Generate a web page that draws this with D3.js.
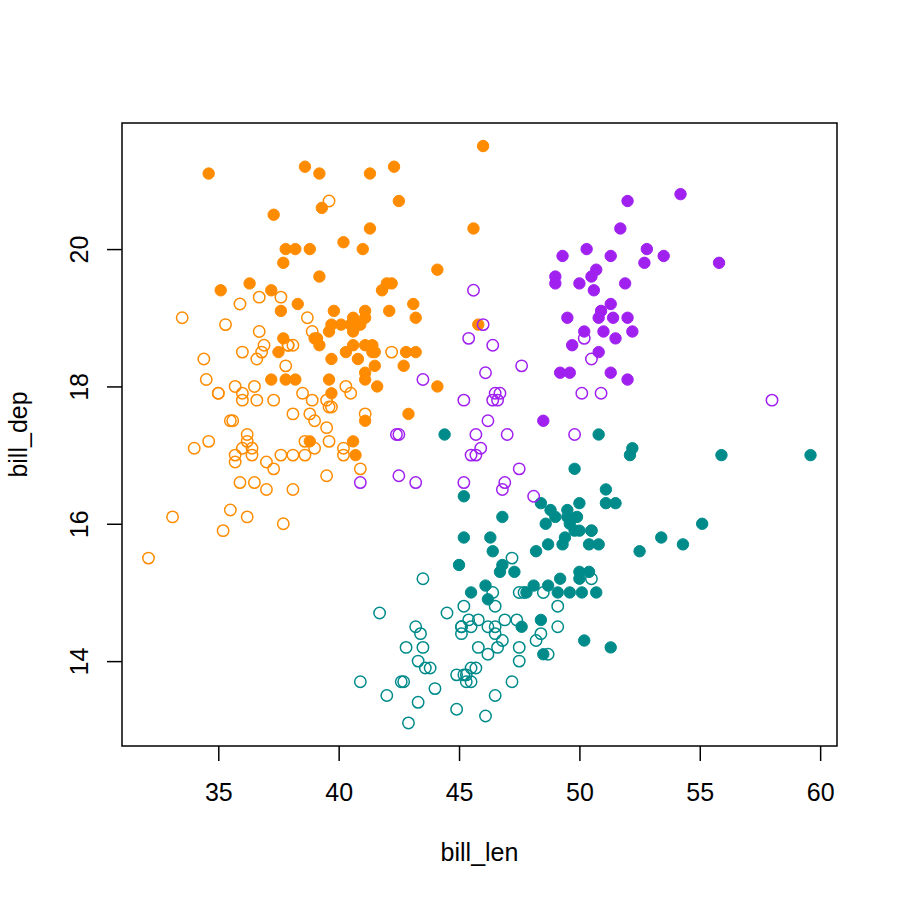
<!DOCTYPE html>
<html>
<head>
<meta charset="utf-8">
<script src="https://cdn.jsdelivr.net/npm/d3@7"></script>
<style>
  html, body { margin: 0; padding: 0; background: #fff; }
  text { font-family: "Liberation Sans", Arial, Helvetica, sans-serif; }
</style>
</head>
<body>
<div id="container"></div>
<script>
/* DATA */
// Adelie
const adelieLen = [39.1,39.5,40.3,36.7,39.3,38.9,39.2,41.1,38.6,34.6,36.6,38.7,42.5,34.4,46.0,37.8,37.7,35.9,38.2,38.8,
  35.3,40.6,40.5,37.9,40.5,39.5,37.2,39.5,40.9,36.4,39.2,38.8,42.2,37.6,39.8,36.5,40.8,36.0,44.1,37.0,
  39.6,41.1,36.0,42.3,39.6,40.1,35.0,42.0,34.5,41.4,39.0,40.6,36.5,37.6,35.7,41.3,37.6,41.1,36.4,41.6,
  35.5,41.1,35.9,41.8,33.5,39.7,39.6,45.8,35.5,42.8,40.9,37.2,36.2,42.1,34.6,42.9,36.7,35.1,37.3,41.3,
  36.3,36.9,38.3,38.9,35.7,41.1,34.0,39.6,36.2,40.8,38.1,40.3,33.1,43.2,35.0,41.0,37.7,37.8,37.9,39.7,
  38.6,38.2,38.1,43.2,38.1,45.6,39.7,42.2,39.6,42.7,38.6,37.3,35.7,41.1,36.2,37.7,40.2,41.4,35.2,40.6,
  38.8,41.5,39.0,44.1,38.5,43.1,36.8,37.5,38.1,41.1,35.6,40.2,37.0,39.7,40.2,40.6,32.1,40.7,37.3,39.0,
  39.2,36.6,36.0,37.8,36.0,41.5];
const adelieDep = [18.7,17.4,18.0,19.3,20.6,17.8,19.6,17.6,21.2,21.1,17.8,19.0,20.7,18.4,21.5,18.3,18.7,19.2,18.1,17.2,
  18.9,18.6,17.9,18.6,18.9,16.7,18.1,17.8,18.9,17.0,21.1,20.0,18.5,19.3,19.1,18.0,18.4,18.5,19.7,16.9,
  18.8,19.0,17.9,21.2,17.7,18.9,17.9,19.5,18.1,18.6,17.5,18.8,16.6,19.1,16.9,21.1,17.0,18.2,17.1,18.0,
  16.2,19.1,16.6,19.4,19.0,18.4,17.2,18.9,17.5,18.5,16.8,19.4,16.1,19.1,17.2,17.6,18.8,19.4,17.8,20.3,
  19.5,18.6,19.2,18.8,18.0,18.1,17.1,18.1,17.3,18.9,18.6,18.5,16.1,18.5,17.9,20.0,16.0,20.0,18.6,18.9,
  17.2,20.0,17.0,19.0,16.5,20.3,17.7,19.5,20.7,18.3,17.0,20.5,17.0,18.6,17.2,19.8,17.0,18.5,15.9,19.0,
  17.6,18.3,17.1,18.0,17.9,19.2,18.5,18.5,17.6,17.5,17.5,20.1,16.5,17.9,17.1,17.2,15.5,17.0,16.8,18.7,
  18.6,18.4,17.8,18.1,17.1,18.5];
const adelieSex = [
  "M","F","F","F","M","F","M","F","M","M",
  "F","F","M","F","M","F","M","F","M","M",
  "F","M","F","F","M","F","M","F","M","F",
  "M","M","F","F","M","F","M","F","M","F",
  "M","M","F","M","F","M","F","M","F","M",
  "F","M","F","M","F","M","F","M","F","M",
  "F","M","F","M","F","M","F","M","F","M",
  "F","M","F","M","F","M","F","M","F","M",
  "M","F","M","F","F","M","F","M","F","M",
  "F","M","F","M","F","M","F","M","F","M",
  "F","M","F","M","F","M","F","M","F","M",
  "F","M","F","M","F","M","F","M","F","M",
  "F","M","F","M","F","M","F","M","F","M",
  "F","M","F","M","F","M","F","M","F","M",
  "M","F","F","M","F","M"];

// Gentoo
const gentooLen = [46.1,50.0,48.7,50.0,47.6,46.5,45.4,46.7,43.3,46.8,40.9,49.0,45.5,48.4,45.8,49.3,42.0,49.2,46.2,48.7,
  50.2,45.1,46.5,46.3,42.9,46.1,47.8,48.2,50.0,47.3,42.8,45.1,59.6,49.1,48.4,42.6,44.4,44.0,48.7,42.7,
  49.6,45.3,49.6,50.5,43.6,45.5,50.5,44.9,45.2,46.6,48.5,45.1,50.1,46.5,45.0,43.8,45.5,43.2,50.4,45.3,
  46.2,45.7,54.3,45.8,49.8,49.5,43.5,50.7,47.7,46.4,48.2,46.5,46.4,48.6,47.5,51.1,45.2,45.2,49.1,52.5,
  47.4,50.0,44.9,50.8,43.4,51.3,47.5,52.1,47.5,52.2,45.5,49.5,44.5,50.8,49.4,46.9,48.4,51.1,48.5,55.9,
  47.2,49.1,46.8,41.7,53.4,43.3,48.1,50.5,49.8,43.5,51.5,46.2,55.1,48.8,47.2,46.8,50.4,45.2,49.9];
const gentooDep = [13.2,16.3,14.1,15.2,14.5,13.5,14.6,15.3,13.4,15.4,13.7,16.1,13.7,14.6,14.6,15.7,13.5,15.2,14.5,15.1,
  14.3,14.5,14.5,15.8,13.1,15.1,15.0,14.3,15.3,15.3,14.2,14.5,17.0,14.8,16.3,13.7,17.3,13.6,15.7,13.7,
  16.0,13.7,15.0,15.9,13.9,13.9,15.9,13.3,15.8,14.2,14.1,14.4,15.0,14.4,15.4,13.9,15.0,14.5,15.3,13.8,
  14.9,13.9,15.7,14.2,16.8,16.2,14.2,15.0,15.0,15.6,15.6,14.8,15.0,16.0,14.2,16.3,13.8,16.4,14.5,15.6,
  14.6,15.9,13.8,17.3,14.4,14.2,14.0,17.0,15.0,17.1,14.5,16.1,14.7,15.7,15.8,14.6,14.4,16.5,15.0,17.0,
  15.5,15.0,16.1,14.7,15.8,14.0,15.1,15.2,15.9,15.2,16.3,14.1,16.0,16.2,13.7,14.3,15.7,14.8,16.1];
const gentooSex = [
  "F","M","F","M","M","F","F","M","F","M",
  "F","M","F","M","F","M","F","M","F","M",
  "M","F","F","M","F","M","M","F","M","M",
  "F","F","M","F","M","F","M","F","M","F",
  "M","F","M","M","F","F","M","F","M","F",
  "M","F","M","F","M","F","M","F","M","F",
  "M","F","M","F","M","M","F","M","F","M",
  "M","F","F","M","F","M","F","M","F","M",
  "F","M","F","M","F","M","F","M","F","M",
  "F","M","F","M","M","F","F","M","F","M",
  "F","M","M","F","M","F","M","F","M","F",
  "M","F","M","M","F","F","M","F","M"];

// Chinstrap
const chinLen = [46.5,50.0,51.3,45.4,52.7,45.2,46.1,51.3,46.0,51.3,46.6,51.7,47.0,52.0,45.9,50.5,50.3,58.0,46.4,49.2,
  42.4,48.5,43.2,50.6,46.7,52.0,50.5,49.5,46.4,52.8,40.9,54.2,42.5,51.0,49.7,47.5,47.6,52.0,46.9,53.5,
  49.0,46.2,50.9,45.5,50.9,50.8,50.1,49.0,51.5,49.8,48.1,51.4,45.7,50.7,42.5,52.2,45.2,49.3,50.2,45.6,
  51.9,46.8,45.7,55.8,43.5,49.6,50.8,50.2];
const chinDep = [17.9,19.5,19.2,18.7,19.8,17.8,18.2,18.2,18.9,19.9,17.8,20.3,17.3,18.1,17.1,19.6,20.0,17.8,18.6,18.2,
  17.3,17.5,16.6,19.4,17.9,19.0,18.4,19.0,17.8,20.0,16.6,20.8,16.7,18.8,18.6,16.8,18.3,20.7,16.6,19.9,
  19.5,17.5,19.1,17.0,17.9,18.5,17.9,19.6,18.7,17.3,16.4,19.0,17.3,19.7,17.3,18.8,16.6,19.9,18.8,19.4,
  19.5,16.5,17.0,19.8,18.1,18.2,19.0,18.7];
const chinSex = [
  "F","M","M","F","M","F","F","M","F","M",
  "F","M","F","M","F","M","M","F","F","M",
  "F","M","F","M","F","M","F","M","F","M",
  "F","M","F","M","M","F","F","M","F","M",
  "M","F","M","F","F","M","F","M","M","F",
  "F","M","F","M","F","M","F","M","M","F",
  "M","F","F","M","F","M","M","F"];

const xTicks = [35, 40, 45, 50, 55, 60];
const yTicks = [14, 16, 18, 20];

/* CONSTANTS */
const width = 900, height = 900;
const plot = { left: 122, right: 837, top: 123, bottom: 746 };
const speciesColor = { adelie: "#FF8C00", gentoo: "#008B8B", chinstrap: "#A020F0" };

// one list of points, drawn in dataset order (Adelie, Gentoo, Chinstrap)
const points = [];
function addSpecies(key, lens, deps, sexes) {
  lens.forEach((v, i) => points.push({ species: key, len: v, dep: deps[i], sex: sexes[i] }));
}
addSpecies("adelie", adelieLen, adelieDep, adelieSex);
addSpecies("gentoo", gentooLen, gentooDep, gentooSex);
addSpecies("chinstrap", chinLen, chinDep, chinSex);

/* SCALES - R style 4% padding */
const xExt = d3.extent(points, d => d.len), yExt = d3.extent(points, d => d.dep);
const xPad = (xExt[1] - xExt[0]) * 0.04, yPad = (yExt[1] - yExt[0]) * 0.04;

const xScale = d3.scaleLinear()
  .domain([xExt[0] - xPad, xExt[1] + xPad])
  .range([plot.left, plot.right]);

const yScale = d3.scaleLinear()
  .domain([yExt[0] - yPad, yExt[1] + yPad])
  .range([plot.bottom, plot.top]);

/* DRAW */
const svg = d3.select("#container")
  .append("svg")
  .attr("width", width)
  .attr("height", height)
  .style("background-color", "#fff");

// points: filled = male, open = female
svg.append("g")
  .selectAll("circle")
  .data(points)
  .join("circle")
  .attr("cx", d => xScale(d.len))
  .attr("cy", d => yScale(d.dep))
  .attr("r", 5.7)
  .attr("fill", d => d.sex === "M" ? speciesColor[d.species] : "none")
  .attr("stroke", d => speciesColor[d.species])
  .attr("stroke-width", d => d.sex === "M" ? 1 : 1.5);

// axes
const xAxis = d3.axisBottom(xScale).tickValues(xTicks).tickSize(15).tickFormat(d3.format("d"));
const yAxis = d3.axisLeft(yScale).tickValues(yTicks).tickSize(15).tickFormat(d3.format("d"));

const gx = svg.append("g")
  .attr("transform", `translate(0,${plot.bottom})`)
  .call(xAxis);
gx.select(".domain").remove();
gx.selectAll("line").attr("stroke", "#000").attr("stroke-width", 1.5);
gx.selectAll("text")
  .attr("y", 55)
  .attr("dy", null)
  .attr("fill", "#000")
  .style("font-size", "25px");

const gy = svg.append("g")
  .attr("transform", `translate(${plot.left},0)`)
  .call(yAxis);
gy.select(".domain").remove();
gy.selectAll("line").attr("stroke", "#000").attr("stroke-width", 1.5);
gy.selectAll("text")
  .attr("x", null)
  .attr("dy", null)
  .attr("text-anchor", "middle")
  .attr("transform", "translate(-34.5,0) rotate(-90)")
  .attr("fill", "#000")
  .style("font-size", "25px");

// box
svg.append("rect")
  .attr("x", plot.left)
  .attr("y", plot.top)
  .attr("width", plot.right - plot.left)
  .attr("height", plot.bottom - plot.top)
  .attr("fill", "none")
  .attr("stroke", "#000")
  .attr("stroke-width", 1.5);

// axis titles
svg.append("text")
  .attr("x", (plot.left + plot.right) / 2)
  .attr("y", 861)
  .attr("text-anchor", "middle")
  .style("font-size", "25px")
  .text("bill_len");

svg.append("text")
  .attr("transform", `translate(27,${(plot.top + plot.bottom) / 2}) rotate(-90)`)
  .attr("text-anchor", "middle")
  .style("font-size", "25px")
  .text("bill_dep");
</script>
</body>
</html>
